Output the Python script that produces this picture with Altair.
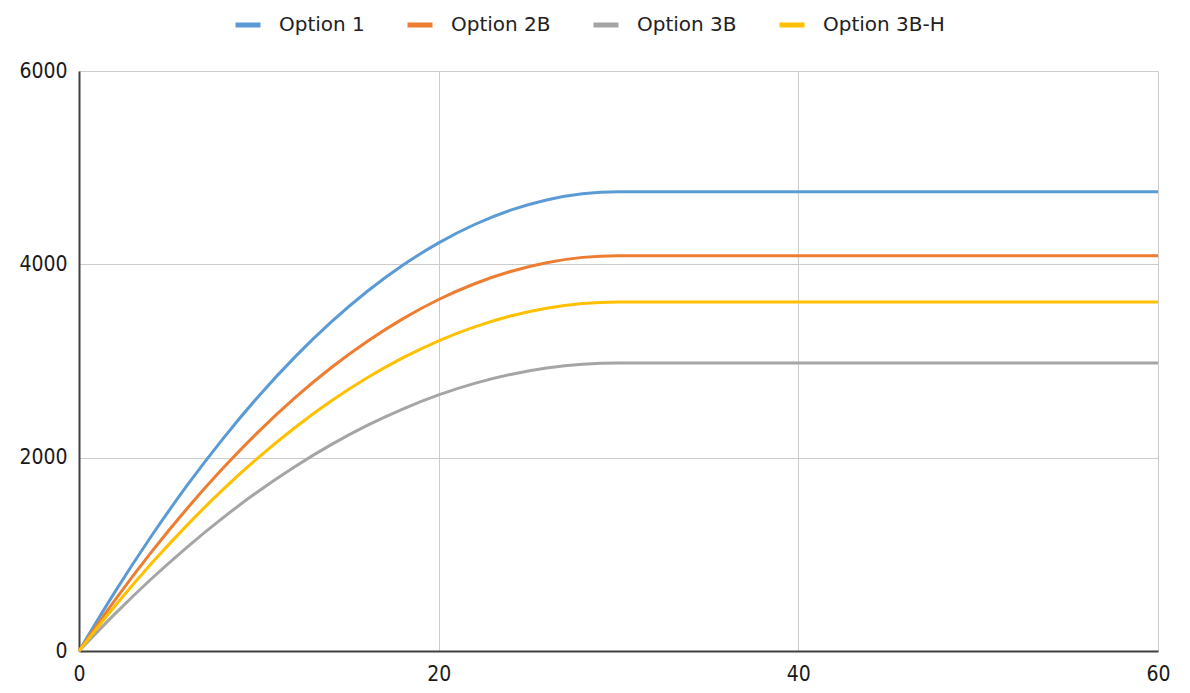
import altair as alt
import pandas as pd

# Time axis points
x_vals = [0, 2, 4, 6, 8, 10, 12, 14, 16, 18, 20, 22, 24, 26, 28, 30, 60]

series_names = ["Option 1", "Option 2B", "Option 3B", "Option 3B-H"]
series_colors = ["#5B9BD5", "#ED7D31", "#A5A5A5", "#FFC000"]

option_1 = [0, 612, 1182, 1710, 2195, 2639, 3040, 3399, 3716, 3990, 4222, 4412, 4560, 4666, 4729, 4750, 4750]
option_2b = [0, 527, 1018, 1472, 1890, 2272, 2618, 2927, 3199, 3436, 3636, 3799, 3926, 4017, 4072, 4090, 4090]
option_3b = [0, 384, 742, 1073, 1377, 1656, 1907, 2132, 2331, 2503, 2649, 2768, 2861, 2927, 2967, 2980, 2980]
option_3b_h = [0, 465, 899, 1300, 1669, 2006, 2310, 2583, 2824, 3032, 3209, 3353, 3466, 3546, 3594, 3610, 3610]

x_ticks = [0, 20, 40, 60]
y_ticks = [0, 2000, 4000, 6000]

rows = []
for idx, (name, vals) in enumerate(zip(series_names, [option_1, option_2b, option_3b, option_3b_h])):
    for x, v in zip(x_vals, vals):
        rows.append({"t": x, "value": v, "series": name, "k": idx})
df = pd.DataFrame(rows)

chart = (
    alt.Chart(df)
    .mark_line(strokeWidth=3, interpolate="monotone")
    .encode(
        x=alt.X("t:Q", scale=alt.Scale(domain=[0, 60], nice=False),
                axis=alt.Axis(values=x_ticks, title=None, labelPadding=12, format="d")),
        y=alt.Y("value:Q", scale=alt.Scale(domain=[0, 6000], nice=False),
                axis=alt.Axis(values=y_ticks, title=None, labelPadding=12, format="d")),
        color=alt.Color(
            "series:N",
            scale=alt.Scale(domain=series_names, range=series_colors),
            legend=alt.Legend(
                orient="none", legendX=154, legendY=-61, direction="horizontal",
                title=None, symbolType="stroke", symbolSize=625, symbolStrokeWidth=5,
                labelFontSize=20, labelFont="DejaVu Sans", labelColor="#222222",
                columnPadding=32, labelOffset=16,
            ),
        ),
        order=alt.Order("k:Q"),
    )
    .properties(
        width=1079, height=580,
        autosize=alt.AutoSizeParams(type="none"),
        padding={"left": 71, "top": 63, "right": 24, "bottom": 34},
    )
    .configure_view(stroke="transparent")
    .configure_axis(
        domainColor="#404040", domainWidth=2, gridColor="#cccccc", gridWidth=1,
        ticks=False, labelFont="DejaVu Sans Condensed", labelFontSize=21,
        labelColor="#1a1a1a", labelFlush=False,
    )
)

chart.save("out.html", embed_options={"renderer": "svg", "actions": False})
